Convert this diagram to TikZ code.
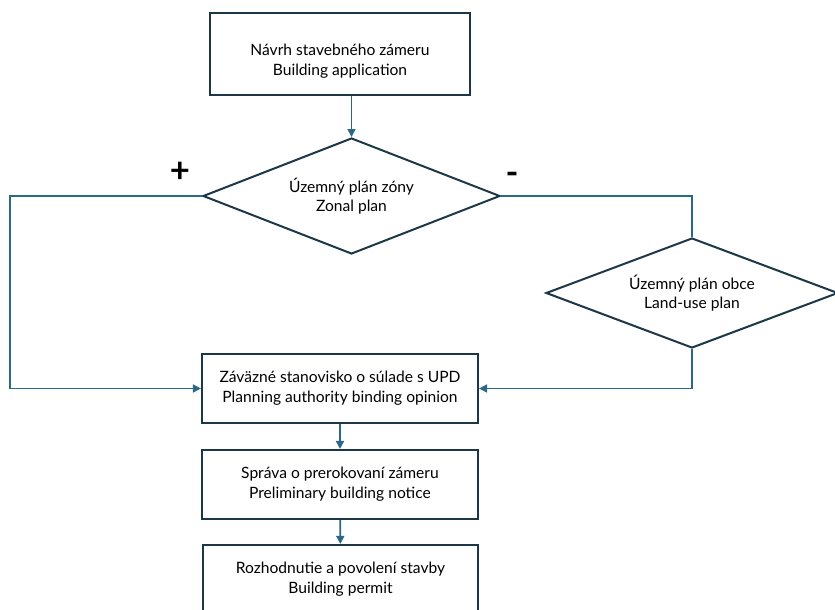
\documentclass[tikz,border=0pt]{standalone}
\usepackage{fontspec}
\setmainfont{Lato}
\usetikzlibrary{arrows.meta,shapes.geometric}
\definecolor{boxline}{RGB}{28,56,72}
\definecolor{flowline}{RGB}{42,104,136}
\tikzset{
	stepbox/.style={
		draw=boxline, line width=1.6pt, rectangle, align=center,
		minimum width=207pt, minimum height=51.75pt, font=\fontsize{11.7}{15}\selectfont},
	decision/.style={
		draw=boxline, line width=1.5pt, diamond, aspect=2.6, inner sep=0pt, align=center,
		font=\fontsize{11.7}{14.5}\selectfont},
	flow/.style={
		draw=flowline, line width=1.3pt, -{Triangle[length=6pt,width=6pt]}},
	flowline/.style={
		draw=flowline, line width=1.3pt},
	sign/.style={font=\fontsize{26}{26}\bfseries\selectfont}
}
\begin{document}
\begin{tikzpicture}[x=0.75pt,y=0.75pt,yscale=-1,xscale=1]
\useasboundingbox (0,0) rectangle (835,610);

% steps
\node[stepbox, minimum width=195pt, minimum height=61.5pt] (appl) at (340,54) {\rule{0pt}{20pt}Návrh stavebného zámeru\\Building application};
\node[decision, minimum width=222.75pt, minimum height=87pt] (zonal) at (351.5,196) {Územný plán zóny\\Zonal plan};
\node[decision, minimum width=219pt, minimum height=82.5pt] (landuse) at (692,293) {Územný plán obce\\Land-use plan};
\node[stepbox] (opinion) at (340,388.5) {Záväzné stanovisko o súlade s UPD\\Planning authority binding opinion};
\node[stepbox] (notice) at (340,484.5) {Správa o prerokovaní zámeru\\Preliminary building notice};
\node[stepbox, minimum width=206.25pt] (permit) at (340.5,579.5) {Rozhodnutie a povolení stavby\\Building permit};

\node[sign] (plus) at (180,172) {+};
\node[sign] (minus) at (512,178) {-};

\coordinate (leftturn) at (10,196);

% connectors
\draw[flow] (zonal.north |- appl.south) -- (zonal.north);
\draw[flow] (zonal.west) -- (leftturn) |- (opinion.west);
\draw[flowline] (zonal.east) -| (landuse.north);
\draw[flow] (landuse.south) |- (opinion.east);
\draw[flow] (opinion) -- (notice);
\draw[flow] (notice) -- (permit);

\end{tikzpicture}
\end{document}
